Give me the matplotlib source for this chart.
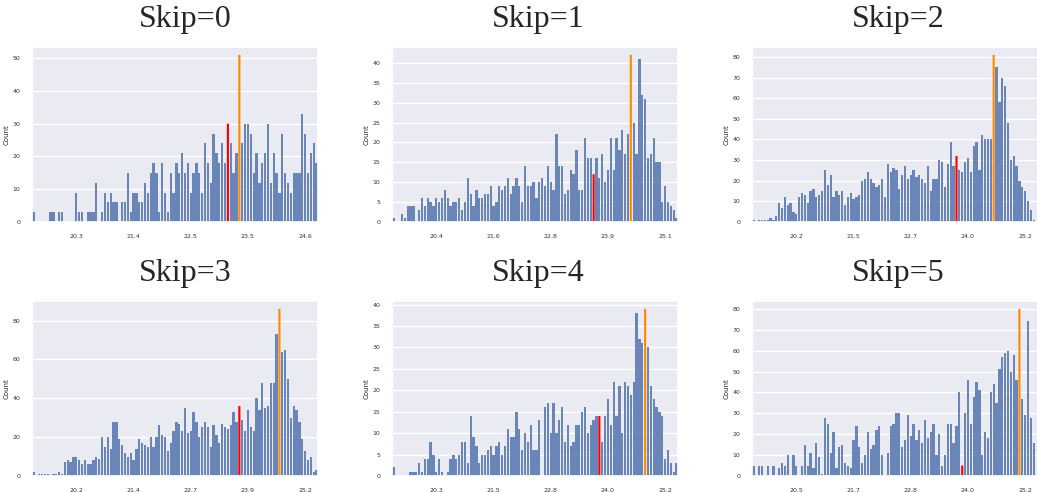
import numpy as np
import matplotlib
matplotlib.use("Agg")
import matplotlib.pyplot as plt
import seaborn as sns

# counts per bin (100 bins each)
skip0 = [3, 0, 0, 0, 0, 0, 3, 3, 0, 3,
         3, 0, 0, 0, 0, 9, 3, 3, 0, 3,
         3, 3, 12, 0, 3, 9, 6, 9, 6, 6,
         0, 6, 6, 15, 3, 9, 9, 6, 6, 12,
         9, 15, 18, 15, 3, 18, 9, 3, 15, 9,
         18, 15, 21, 15, 18, 9, 15, 18, 15, 9,
         24, 18, 12, 27, 21, 18, 24, 18, 30, 24,
         15, 21, 51, 24, 30, 30, 27, 15, 21, 12,
         18, 21, 30, 12, 21, 15, 9, 27, 15, 12,
         9, 15, 15, 15, 33, 27, 15, 21, 24, 18]
skip1 = [1, 0, 0, 2, 1, 4, 4, 4, 0, 3,
         6, 4, 6, 5, 4, 6, 5, 6, 8, 6,
         4, 5, 5, 6, 3, 5, 11, 7, 4, 8,
         6, 6, 7, 7, 9, 4, 5, 9, 8, 9,
         11, 7, 9, 11, 9, 5, 14, 9, 9, 10,
         6, 10, 11, 9, 14, 10, 8, 22, 14, 14,
         7, 8, 13, 12, 18, 8, 8, 21, 16, 16,
         12, 16, 11, 17, 10, 13, 21, 13, 21, 18,
         23, 17, 22, 42, 25, 17, 41, 32, 31, 16,
         17, 21, 15, 15, 5, 9, 5, 4, 3, 1]
skip2 = [1, 0, 1, 1, 1, 1, 2, 1, 3, 9,
         7, 12, 8, 9, 5, 4, 12, 14, 13, 9,
         15, 16, 12, 13, 15, 25, 18, 23, 12, 15,
         13, 15, 8, 12, 14, 11, 12, 13, 20, 21,
         24, 21, 19, 17, 18, 21, 12, 28, 24, 26,
         25, 16, 23, 27, 21, 23, 25, 22, 23, 21,
         19, 27, 15, 21, 21, 30, 29, 17, 28, 39,
         27, 32, 25, 24, 29, 31, 24, 37, 39, 25,
         42, 40, 40, 40, 81, 75, 58, 70, 66, 48,
         30, 32, 27, 20, 17, 15, 10, 6, 1, 0]
skip3 = [2, 0, 1, 1, 1, 1, 0, 1, 1, 2,
         1, 7, 8, 7, 10, 10, 8, 6, 8, 6,
         6, 8, 10, 9, 20, 15, 20, 14, 28, 28,
         19, 16, 12, 10, 12, 8, 14, 19, 17, 16,
         15, 20, 15, 20, 26, 21, 20, 13, 17, 23,
         28, 27, 23, 35, 22, 23, 33, 28, 20, 25,
         28, 25, 15, 26, 21, 17, 27, 25, 24, 26,
         33, 28, 36, 29, 23, 34, 25, 23, 40, 34,
         48, 35, 36, 48, 48, 73, 86, 64, 65, 50,
         30, 36, 34, 28, 19, 13, 8, 10, 2, 3]
skip4 = [2, 0, 0, 0, 0, 0, 1, 1, 1, 3,
         1, 4, 4, 8, 5, 1, 4, 1, 0, 1,
         4, 5, 4, 5, 8, 8, 3, 14, 9, 7,
         3, 5, 5, 6, 7, 5, 7, 8, 5, 7,
         11, 9, 9, 15, 11, 6, 10, 8, 12, 6,
         6, 13, 0, 16, 17, 10, 17, 10, 13, 16,
         8, 12, 7, 8, 12, 12, 15, 16, 10, 12,
         13, 14, 14, 8, 14, 18, 12, 22, 14, 21,
         10, 22, 21, 19, 22, 38, 32, 31, 39, 30,
         21, 18, 16, 15, 14, 4, 6, 3, 1, 3]
skip5 = [5, 0, 5, 5, 0, 5, 0, 5, 0, 4,
         6, 5, 10, 0, 10, 5, 0, 5, 15, 5,
         11, 4, 16, 9, 1, 28, 25, 11, 21, 4,
         14, 15, 6, 5, 4, 17, 24, 14, 6, 10,
         21, 13, 15, 22, 24, 10, 0, 11, 24, 25,
         30, 30, 14, 17, 29, 19, 25, 17, 22, 16,
         27, 18, 21, 25, 10, 20, 5, 10, 25, 25,
         16, 24, 40, 5, 30, 46, 25, 38, 45, 41,
         10, 21, 18, 40, 44, 35, 51, 57, 59, 60,
         50, 58, 46, 80, 37, 29, 74, 28, 16, 0]

titles = ["Skip=0", "Skip=1", "Skip=2", "Skip=3", "Skip=4", "Skip=5"]
red_bin = [68, 70, 71, 72, 72, 73]
orange_bin = [72, 83, 84, 86, 88, 93]
xlabels = [["20.3", "21.4", "22.5", "23.5", "24.6"],
           ["20.4", "21.6", "22.8", "23.9", "25.1"],
           ["20.2", "21.5", "22.7", "24.0", "25.2"],
           ["20.2", "21.4", "22.7", "23.9", "25.2"],
           ["20.3", "21.5", "22.8", "24.0", "25.2"],
           ["20.5", "21.7", "22.8", "24.0", "25.2"]]
all_counts = [skip0, skip1, skip2, skip3, skip4, skip5]

sns.set_theme(style="darkgrid")

W, H = 1037, 492
fig = plt.figure(figsize=(W / 100, H / 100), dpi=100)

lefts = [32, 392, 752]
bottoms = [222, 476]
ystep = [10, 5, 10, 20, 5, 10]
title_x = [185, 538, 898]
title_y = [20, 273]
blue = "#6a86b9"

for k in range(6):
    r, c = k // 3, k % 3
    ax = fig.add_axes([lefts[c] / W, 1 - bottoms[r] / H, 286 / W, 175.5 / H])
    counts = np.array(all_counts[k])
    x = np.arange(len(counts))
    keep = (x != red_bin[k]) & (x != orange_bin[k])
    ax.bar(x[keep], counts[keep], width=0.8, color=blue, linewidth=0)
    # highlighted bins
    ax.bar(red_bin[k], counts[red_bin[k]], width=0.75, color="red",
           linewidth=0, snap=False)
    ax.bar(orange_bin[k], counts[orange_bin[k]], width=0.75, color="darkorange",
           linewidth=0, snap=False)
    top = counts.max() * 1.05
    ax.set_xlim(-0.5, len(counts) - 0.5)
    ax.set_ylim(0, top)
    ax.set_yticks(np.arange(0, top, ystep[k]))
    ax.set_xticks([15, 35, 55, 75, 95])
    ax.set_xticklabels(xlabels[k])
    ax.xaxis.grid(False)
    ax.tick_params(labelsize=4.5, pad=2.5, colors="#333333")
    ax.set_ylabel("Count", fontsize=5, labelpad=2)
    fig.text(title_x[c] / W, 1 - title_y[r] / H, titles[k],
             family="Liberation Serif", fontsize=23, ha="center", va="center")

fig.savefig("out.png", dpi=100)
